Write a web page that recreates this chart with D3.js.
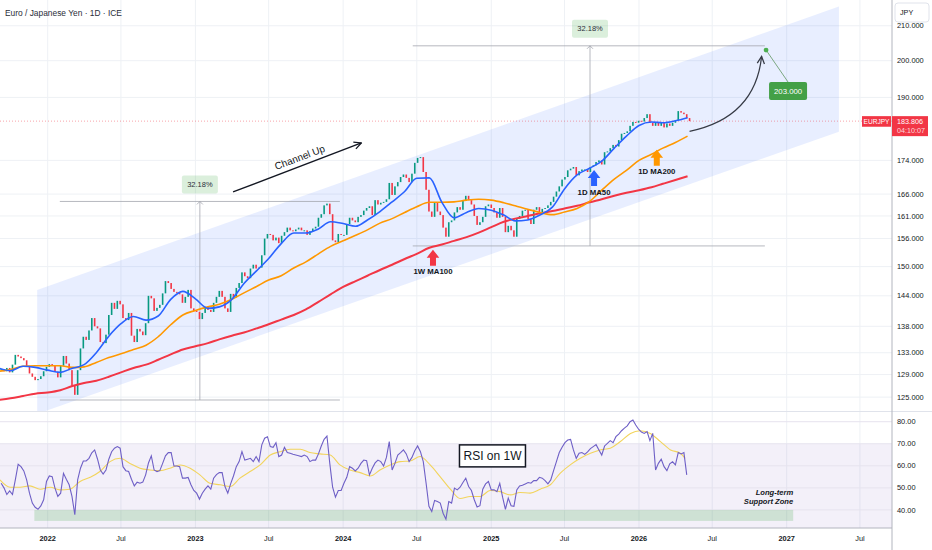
<!DOCTYPE html>
<html>
<head>
<meta charset="utf-8">
<script src="https://cdn.jsdelivr.net/npm/d3@7"></script>
<style>
  body { margin: 0; background: #fff; }
  svg { display: block; font-family: "Liberation Sans", Arial, sans-serif; }
</style>
</head>
<body>
<div id="chart"></div>
<script>
// ---- data ----
const title = 'Euro / Japanese Yen · 1D · ICE'
const firstWeek = '2021-09-06'

// weekly closes, one per week from firstWeek
const closes = [
  // 2021
  130.0, 129.6, 130.2, 129.4, 130.8, 132.6, 132.3, 132.0, 131.6, 130.5, 129.2, 128.6, 128.0, 128.2, 128.7, 129.6, 130.4,
  // 2022
  130.9, 130.6, 129.5, 128.5, 130.6, 132.4, 131.0, 129.8, 127.0, 125.4,
  129.8, 133.8, 136.0, 135.4, 137.2, 139.6, 138.0, 137.6, 135.0, 134.8,
  136.4, 140.2, 142.6, 141.4, 143.0, 142.3, 139.6, 139.2, 140.6, 136.2,
  135.0, 137.5, 137.0, 136.3, 138.6, 144.0, 143.5, 141.0, 141.6, 142.2,
  144.5, 147.0, 146.6, 145.4, 144.8, 144.6, 144.3, 142.6, 143.8, 145.2,
  141.5, 141.0,
  // 2023
  140.8, 139.4, 140.6, 141.8, 141.2, 140.8, 142.6, 143.8, 145.0, 143.8,
  141.5, 140.8, 144.4, 143.7, 145.6, 146.6, 148.8, 148.0, 147.6, 149.6,
  150.4, 149.6, 149.8, 152.4, 156.0, 157.0, 156.8, 155.6, 156.2, 155.0,
  156.6, 157.4, 158.4, 157.8, 157.6, 158.0, 158.4, 157.8, 157.8, 156.8,
  157.6, 158.2, 158.6, 160.6, 161.4, 163.4, 163.8, 161.4, 155.6, 155.2,
  157.0, 156.8,
  // 2024
  156.8, 159.2, 160.6, 160.0, 159.6, 160.8, 161.2, 162.2, 162.8, 163.2,
  161.2, 164.6, 163.6, 164.0, 164.2, 164.8, 168.6, 165.8, 167.8, 168.8,
  170.0, 170.6, 169.8, 168.8, 170.8, 173.4, 174.6, 174.8, 171.2, 167.0,
  162.0, 160.8, 164.0, 162.0, 161.2, 158.4, 156.4, 159.6, 160.0, 161.8,
  163.0, 162.4, 164.4, 165.6, 164.6, 163.6, 161.0, 159.0, 159.6, 160.8,
  163.2, 163.6, 162.8,
  // 2025
  161.8, 160.6, 162.8, 160.8, 157.4, 158.8, 157.8, 156.4, 160.4, 161.0,
  162.2, 162.4, 160.2, 159.2, 162.4, 163.0, 161.6, 162.6, 162.8, 163.4,
  164.2, 165.4, 166.6, 167.8, 169.4, 170.0, 171.6, 172.0, 172.4, 170.4,
  171.4, 171.8, 171.8, 171.2, 172.4, 172.8, 173.6, 174.0, 173.0, 176.0,
  176.2, 177.0, 177.8, 177.4, 179.0, 180.6, 180.8, 181.2, 182.6, 183.6,
  183.4, 183.9,
  // 2026
  183.7, 184.6, 185.6, 183.4, 182.6, 183.4, 182.6, 183.4, 182.2, 183.2,
  182.6, 183.4, 184.0, 186.4, 186.0, 185.6, 184.6, 183.806
]

// RSI on 1W, one per week from firstWeek
const rsi = [
  52.1, 50.0, 47.0, 48.6, 47.0, 53.6, 60.7, 59.6, 57.7, 53.6, 47.6, 43.1, 41.2, 40.3, 41.8, 44.6, 52.9,
  55.4, 55.1, 49.9, 46.1, 47.6, 56.6, 53.9, 51.4, 46.1, 37.8, 53.6, 58.9, 62.2, 62.2, 63.4, 65.9,
  67.2, 63.1, 58.1, 56.3, 58.1, 63.0, 66.4, 68.0, 68.7, 68.0, 59.6, 57.8, 57.4, 53.9, 50.9, 52.6,
  52.1, 52.6, 55.9, 61.3, 64.5, 58.1, 57.4, 57.8, 61.1, 64.5, 66.0, 66.0, 59.9, 59.9, 59.6, 54.4,
  54.4, 54.7, 51.4, 48.8, 47.6, 44.9, 47.6, 49.4, 50.9, 49.4, 54.4, 56.0, 56.9, 56.9, 50.6, 47.6,
  51.8, 55.4, 59.6, 61.9, 66.4, 62.6, 63.0, 63.4, 61.9, 64.2, 61.9, 69.5, 72.5, 73.2, 68.7, 68.4,
  70.5, 64.2, 64.9, 68.4, 66.0, 65.7, 65.2, 64.9, 64.6, 64.2, 64.9, 64.2, 61.9, 62.6, 62.6, 65.4,
  69.0, 72.0, 73.5, 61.1, 50.3, 45.8, 48.8, 48.8, 52.1, 54.8, 59.6, 58.9, 57.7, 58.9, 61.1, 62.6,
  62.3, 55.9, 58.9, 61.3, 62.6, 61.9, 59.9, 63.8, 71.0, 58.1, 61.1, 64.9, 66.0, 67.2, 65.4, 61.9,
  63.8, 66.8, 69.0, 66.4, 61.9, 52.1, 41.6, 39.3, 44.3, 43.8, 43.1, 38.5, 35.8, 43.8, 43.1, 49.9,
  49.1, 50.3, 52.4, 54.4, 50.6, 48.8, 44.6, 41.3, 41.9, 49.4, 51.8, 52.9, 49.1, 49.1, 48.3, 52.1,
  45.8, 40.3, 45.4, 41.9, 41.6, 49.1, 50.9, 51.2, 51.8, 52.4, 52.1, 53.3, 53.3, 54.8, 54.4, 53.3,
  51.8, 53.6, 57.8, 61.9, 66.0, 68.4, 70.5, 71.7, 72.0, 67.2, 63.4, 65.7, 66.0, 65.2, 66.3, 67.8,
  68.7, 69.6, 67.2, 64.9, 69.0, 70.2, 71.4, 70.5, 73.2, 74.4, 75.9, 77.1, 78.1, 80.0, 80.8, 78.5,
  76.6, 75.3, 74.7, 75.5, 71.4, 74.7, 58.1, 61.1, 63.0, 59.6, 57.8, 60.9, 61.8, 60.4, 66.0, 65.4,
  66.0, 55.9
]

// moving averages, one value per month from maStart
const maStart = '2021-09-01'
const ma50 = [
  130.2, 129.7, 130.5, 130.3,
  129.8, 129.4, 130.1, 130.8, 133.0, 136.1, 138.5, 139.9, 139.2, 140.0, 143.3, 144.9,
  143.4, 141.5, 141.8, 143.3, 146.5, 149.1, 151.7, 154.9, 157.2, 157.2, 158.1, 159.7,
  159.3, 158.7, 160.1, 162.0, 164.2, 166.6, 169.7, 169.8, 164.1, 160.6, 161.8, 162.7,
  162.3, 161.2, 159.9, 160.1, 161.2, 163.0, 167.2, 170.5, 172.1, 173.8, 177.0, 180.0,
  182.7, 183.6, 183.4, 183.9, 184.7
]
const ma200 = [
  129.6, 129.9, 130.5, 130.6,
  130.6, 130.6, 130.3, 130.4, 131.2, 132.1, 132.8, 133.6, 134.4, 136.0, 138.3, 140.2,
  141.1, 141.8, 142.3, 143.3, 144.6, 145.9, 147.2, 148.1, 149.7, 151.0, 152.7, 154.3,
  155.5, 156.7, 157.9, 159.4, 160.4, 161.8, 163.1, 164.1, 164.1, 164.2, 164.6, 164.8,
  164.6, 164.0, 163.3, 162.5, 161.8, 161.3, 161.9, 162.7, 164.3, 166.9, 169.5, 171.6,
  174.0, 175.5, 177.0, 178.4, 180.0
]
const ma100w = [
  124.5, 124.8, 125.2, 125.6,
  125.8, 126.2, 126.9, 127.5, 127.9, 128.6, 129.4, 130.2, 130.8, 131.7, 132.7, 133.6,
  134.2, 134.8, 135.5, 136.2, 136.8, 137.6, 138.4, 139.3, 140.2, 141.3, 142.8, 144.3,
  145.8, 147.0, 148.1, 149.3, 150.4, 151.6, 152.7, 154.0, 154.7, 155.5, 156.3, 157.3,
  158.5, 159.7, 160.4, 161.0, 161.6, 162.1, 162.7, 163.3, 164.1, 164.8, 165.6, 166.3,
  166.9, 167.6, 168.4, 169.3, 170.2
]

// moving average of the RSI
const rsiMaDates = [
  '2021-09-05', '2021-09-30', '2021-10-25', '2021-11-18', '2021-12-13',
  '2022-01-07', '2022-01-31', '2022-02-25', '2022-03-22', '2022-04-16', '2022-05-10', '2022-06-04', '2022-06-29',
  '2022-07-23', '2022-08-17', '2022-09-11', '2022-10-06', '2022-10-30', '2022-11-24', '2022-12-19',
  '2023-01-12', '2023-02-06', '2023-03-03', '2023-03-28', '2023-04-21', '2023-05-16', '2023-06-10', '2023-07-05',
  '2023-07-29', '2023-08-23', '2023-09-17', '2023-10-11', '2023-11-05', '2023-11-30', '2023-12-24',
  '2024-01-18', '2024-02-12', '2024-03-08', '2024-04-01', '2024-04-26', '2024-05-21', '2024-06-15', '2024-07-09',
  '2024-08-03', '2024-08-28', '2024-09-22', '2024-10-16', '2024-11-10', '2024-12-05', '2024-12-29',
  '2025-01-23', '2025-02-17', '2025-03-13', '2025-04-07', '2025-05-02', '2025-05-27', '2025-06-20', '2025-07-15',
  '2025-08-09', '2025-09-03', '2025-09-27', '2025-10-22', '2025-11-16', '2025-12-11',
  '2026-01-04', '2026-01-29', '2026-02-23', '2026-03-20', '2026-04-13', '2026-04-25'
]
const rsiMa = [
  53.6, 50.3, 50.3, 50.9, 49.4,
  50.3, 49.1, 49.4, 52.9, 54.8, 57.4, 61.9, 63.4, 61.1, 58.9, 58.1, 57.8, 58.9, 60.4, 58.9,
  55.9, 52.1, 51.4, 50.6, 54.4, 57.4, 60.4, 64.9, 66.4, 67.5, 67.5, 66.0, 65.4, 64.9, 60.4,
  58.1, 56.9, 55.4, 58.1, 60.4, 61.9, 62.2, 64.2, 60.4, 55.0, 49.4, 45.2, 46.1, 46.1, 48.8,
  48.3, 46.8, 47.9, 47.6, 49.4, 51.4, 56.6, 60.4, 63.4, 65.7, 67.2, 68.0, 71.0, 74.7,
  75.9, 74.7, 71.0, 67.2, 65.7, 63.4
]

const priceTicks = [210, 200, 190, 174, 166, 161, 156, 150, 144, 138, 133, 129, 125]
const rsiTicks = [80, 70, 60, 50, 40]
const xTickDates = ['2022-01-01', '2022-07-01', '2023-01-01', '2023-07-01', '2024-01-01', '2024-07-01',
  '2025-01-01', '2025-07-01', '2026-01-01', '2026-07-01', '2027-01-01', '2027-07-01']

const lastPrice = 183.806
const countdown = '04:10:07'

// drawings
const channel = { from: '2021-12-06', to: '2027-05-10', fromHi: 145.2, fromLo: 122.1, toHi: 215.7, toLo: 181.1 }
const measures = [
  { from: '2022-01-31', to: '2023-12-24', at: '2023-01-12', lo: 124.5, hi: 164.3, label: '32.18%' },
  { from: '2024-06-21', to: '2026-11-08', at: '2025-09-02', lo: 154.4, hi: 204.2, label: '32.18%' }
]
const target = { date: '2026-11-11', price: 203.0, label: '203.000' }
const projection = { from: ['2026-05-06', 181.2], ctrl: ['2026-10-15', 184.7], to: ['2026-10-31', 201.2] }
const channelArrow = { from: ['2023-04-04', 166.5], to: ['2024-02-15', 178.3], label: 'Channel Up' }
const maNotes = [
  { date: '2024-08-10', price: 153.6, text: '1W MA100', color: '#f23645' },
  { date: '2025-09-12', price: 171.7, text: '1D MA50', color: '#2962ff' },
  { date: '2026-02-14', price: 176.6, text: '1D MA200', color: '#ff9800' }
]
const rsiNote = { date: '2025-01-04', value: 64.5, text: 'RSI on 1W' }
const supportZone = { from: '2021-11-29', to: '2027-01-17', lo: 35, hi: 40, text: ['Long-term', 'Support Zone'] }

// ---- layout ----
const width = 932
const height = 550
const plotRight = 892
const mainBottom = 411
const rsiTop = 412
const rsiBottom = 528

const parse = d3.utcParse('%Y-%m-%d')

const x = d3.scaleUtc()
  .domain([parse('2022-01-01'), parse('2027-01-01')])
  .range([47.7, 786.7])

const y = d3.scaleLog().domain([122.6, 217.7]).range([mainBottom, 0])

const yr = d3.scaleLinear().domain([31.8, 84.4]).range([rsiBottom, rsiTop])

const svg = d3.select('#chart')
  .append('svg')
  .attr('width', width)
  .attr('height', height)

const defs = svg.append('defs')
defs.append('clipPath').attr('id', 'clip-main')
  .append('rect').attr('x', 0).attr('y', 0).attr('width', plotRight).attr('height', mainBottom)
defs.append('clipPath').attr('id', 'clip-rsi')
  .append('rect').attr('x', 0).attr('y', rsiTop).attr('width', plotRight).attr('height', rsiBottom - rsiTop)

function marker(id, color) {
  defs.append('marker')
    .attr('id', id)
    .attr('viewBox', '0 0 10 10')
    .attr('refX', 9)
    .attr('refY', 5)
    .attr('markerUnits', 'userSpaceOnUse')
    .attr('markerWidth', 9)
    .attr('markerHeight', 9)
    .attr('orient', 'auto')
    .append('path')
    .attr('d', 'M1,1 L9,5 L1,9')
    .attr('fill', 'none')
    .attr('stroke', color)
    .attr('stroke-width', 1.4)
}
marker('arrow-dark', '#131722')
marker('arrow-grey', '#363a45')

const gridColor = '#eef1f5'

// grid
const xTicks = xTickDates.map(parse)
svg.append('g')
  .selectAll('line')
  .data(xTicks)
  .join('line')
  .attr('x1', d => x(d)).attr('x2', d => x(d))
  .attr('y1', 0).attr('y2', rsiBottom)
  .attr('stroke', gridColor)

svg.append('g')
  .selectAll('line')
  .data(priceTicks)
  .join('line')
  .attr('x1', 0).attr('x2', plotRight)
  .attr('y1', d => y(d)).attr('y2', d => y(d))
  .attr('stroke', gridColor)

// ---- main pane ----
const main = svg.append('g').attr('clip-path', 'url(#clip-main)')

const ch = [
  [channel.from, channel.fromHi], [channel.to, channel.toHi],
  [channel.to, channel.toLo], [channel.from, channel.fromLo]
]
main.append('path')
  .attr('d', 'M' + ch.map(([d, p]) => [x(parse(d)), y(p)].join(',')).join('L') + 'Z')
  .attr('fill', '#2962ff')
  .attr('fill-opacity', 0.11)

// price line
main.append('line')
  .attr('x1', 0).attr('x2', plotRight)
  .attr('y1', y(lastPrice)).attr('y2', y(lastPrice))
  .attr('stroke', '#f23645')
  .attr('stroke-opacity', 0.45)
  .attr('stroke-dasharray', '1,2')

// measure tools
measures.forEach(m => {
  let x0 = x(parse(m.from))
  let x1 = x(parse(m.to))
  let xm = x(parse(m.at))
  let yHi = y(m.hi)
  let yLo = y(m.lo)
  let g = main.append('g').attr('stroke', '#a3a6af').attr('stroke-width', 0.8).attr('fill', 'none')
  g.append('line').attr('x1', x0).attr('x2', x1).attr('y1', yHi).attr('y2', yHi)
  g.append('line').attr('x1', x0).attr('x2', x1).attr('y1', yLo).attr('y2', yLo)
  g.append('line').attr('x1', xm).attr('x2', xm).attr('y1', yLo).attr('y2', yHi)
  g.append('path').attr('d', `M${xm - 3},${yHi + 3}L${xm},${yHi}L${xm + 3},${yHi + 3}`)
})

// moving averages
const months = d3.utcMonth.range(parse(maStart), d3.utcMonth.offset(parse(maStart), ma50.length))
const maLine = d3.line()
  .x((d, i) => x(months[i]))
  .y(d => y(d))
  .curve(d3.curveMonotoneX)

// weekly candles
const start = parse(firstWeek)
const bars = closes.map((c, i) => ({
  date: d3.utcDay.offset(start, 7 * i + 2),
  open: i ? closes[i - 1] : c,
  close: c
}))

main.selectAll('.bar')
  .data(bars)
  .join('rect')
  .attr('class', 'bar')
  .attr('x', d => x(d.date) - 0.8)
  .attr('width', 1.6)
  .attr('y', d => y(Math.max(d.open, d.close)))
  .attr('height', d => Math.max(1, Math.abs(y(d.open) - y(d.close))))
  .attr('fill', d => (d.close >= d.open ? '#089981' : '#f23645'))

main.append('path').datum(ma100w).attr('d', maLine)
  .attr('fill', 'none').attr('stroke', '#f23645').attr('stroke-width', 2)
main.append('path').datum(ma200).attr('d', maLine)
  .attr('fill', 'none').attr('stroke', '#ff9800').attr('stroke-width', 1.6)
main.append('path').datum(ma50).attr('d', maLine)
  .attr('fill', 'none').attr('stroke', '#2962ff').attr('stroke-width', 1.6)

// labels of the measure tools
measures.forEach(m => {
  let g = svg.append('g').attr('transform', `translate(${x(parse(m.at))},${y(m.hi) - 17})`)
  g.append('rect')
    .attr('x', -18).attr('y', -9).attr('width', 36).attr('height', 18).attr('rx', 2)
    .attr('fill', '#4caf50').attr('fill-opacity', 0.2)
  g.append('text')
    .text(m.label)
    .attr('text-anchor', 'middle')
    .attr('dy', '0.35em')
    .attr('font-size', 7.5)
    .attr('fill', '#2a2e39')
})

// channel up arrow
let ca0 = [x(parse(channelArrow.from[0])), y(channelArrow.from[1])]
let ca1 = [x(parse(channelArrow.to[0])), y(channelArrow.to[1])]
svg.append('line')
  .attr('x1', ca0[0]).attr('y1', ca0[1]).attr('x2', ca1[0]).attr('y2', ca1[1])
  .attr('stroke', '#131722').attr('stroke-width', 1.4)
  .attr('marker-end', 'url(#arrow-dark)')
let angle = Math.atan2(ca1[1] - ca0[1], ca1[0] - ca0[0]) * 180 / Math.PI
svg.append('text')
  .text(channelArrow.label)
  .attr('transform', `translate(${(ca0[0] + ca1[0]) / 2},${(ca0[1] + ca1[1]) / 2}) rotate(${angle})`)
  .attr('x', 6).attr('y', -5)
  .attr('text-anchor', 'middle')
  .attr('font-size', 10)
  .attr('fill', '#131722')

// projection curve
let p0 = [x(parse(projection.from[0])), y(projection.from[1])]
let p1 = [x(parse(projection.ctrl[0])), y(projection.ctrl[1])]
let p2 = [x(parse(projection.to[0])), y(projection.to[1])]
svg.append('path')
  .attr('d', `M${p0}Q${p1} ${p2}`)
  .attr('fill', 'none')
  .attr('stroke', '#363a45')
  .attr('stroke-width', 1.2)
  .attr('marker-end', 'url(#arrow-grey)')

// target point
let tx = x(parse(target.date))
let ty = y(target.price)
svg.append('line')
  .attr('x1', tx).attr('y1', ty).attr('x2', tx + 22).attr('y2', ty + 32)
  .attr('stroke', '#6f9f73').attr('stroke-width', 0.9)
svg.append('circle').attr('cx', tx).attr('cy', ty).attr('r', 2.4).attr('fill', '#4caf50')
let tg = svg.append('g').attr('transform', `translate(${tx + 22},${ty + 41})`)
tg.append('rect')
  .attr('x', -19).attr('y', -9).attr('width', 38).attr('height', 18).attr('rx', 2)
  .attr('fill', '#43a047')
tg.append('text')
  .text(target.label)
  .attr('text-anchor', 'middle')
  .attr('dy', '0.35em')
  .attr('font-size', 7.8)
  .attr('fill', '#fff')

// block arrows under the moving averages
maNotes.forEach(n => {
  let cx = x(parse(n.date))
  let cy = y(n.price)
  svg.append('path')
    .attr('d', `M${cx},${cy}L${cx + 6.3},${cy + 8}L${cx + 3},${cy + 8}L${cx + 3},${cy + 16}` +
      `L${cx - 3},${cy + 16}L${cx - 3},${cy + 8}L${cx - 6.3},${cy + 8}Z`)
    .attr('fill', n.color)
  svg.append('text')
    .text(n.text)
    .attr('x', cx)
    .attr('y', cy + 22)
    .attr('dy', '0.35em')
    .attr('text-anchor', 'middle')
    .attr('font-size', 7.8)
    .attr('font-weight', 'bold')
    .attr('fill', '#131722')
})

// ---- RSI pane ----
const rsiG = svg.append('g').attr('clip-path', 'url(#clip-rsi)')

rsiG.append('rect')
  .attr('x', 0).attr('width', plotRight)
  .attr('y', yr(70)).attr('height', yr(30) - yr(70))
  .attr('fill', '#7e57c2').attr('fill-opacity', 0.09)

rsiG.selectAll('.rgrid')
  .data(rsiTicks)
  .join('line')
  .attr('class', 'rgrid')
  .attr('x1', 0).attr('x2', plotRight)
  .attr('y1', d => yr(d)).attr('y2', d => yr(d))
  .attr('stroke', '#e6e3ee')

rsiG.append('rect')
  .attr('x', x(parse(supportZone.from)))
  .attr('width', x(parse(supportZone.to)) - x(parse(supportZone.from)))
  .attr('y', yr(supportZone.hi))
  .attr('height', yr(supportZone.lo) - yr(supportZone.hi))
  .attr('fill', '#4caf50').attr('fill-opacity', 0.22)

rsiG.append('path')
  .datum(rsiMa)
  .attr('d', d3.line().x((d, i) => x(parse(rsiMaDates[i]))).y(d => yr(d)).curve(d3.curveMonotoneX))
  .attr('fill', 'none').attr('stroke', '#f2d45c').attr('stroke-width', 1.1)

rsiG.append('path')
  .datum(rsi)
  .attr('d', d3.line().x((d, i) => x(d3.utcDay.offset(start, 7 * i + 2))).y(d => yr(d)))
  .attr('fill', 'none').attr('stroke', '#6e5fc6').attr('stroke-width', 1.1)

let sx = x(parse(supportZone.to))
supportZone.text.forEach((t, i) => {
  svg.append('text')
    .text(t)
    .attr('x', sx)
    .attr('y', yr(supportZone.hi) - 15 + i * 9)
    .attr('text-anchor', 'end')
    .attr('font-size', 7.6)
    .attr('font-weight', 'bold')
    .attr('font-style', 'italic')
    .attr('fill', '#131722')
})

let rg = svg.append('g').attr('transform', `translate(${x(parse(rsiNote.date))},${yr(rsiNote.value)})`)
rg.append('rect')
  .attr('x', -33).attr('y', -11).attr('width', 66).attr('height', 22)
  .attr('fill', '#fff').attr('stroke', '#131722').attr('stroke-width', 1.5)
rg.append('text')
  .text(rsiNote.text)
  .attr('text-anchor', 'middle')
  .attr('dy', '0.36em')
  .attr('font-size', 12)
  .attr('fill', '#131722')

// ---- frame and axes ----
svg.append('line')
  .attr('x1', 0).attr('x2', width).attr('y1', mainBottom + 0.5).attr('y2', mainBottom + 0.5)
  .attr('stroke', '#e0e3eb')
svg.append('line')
  .attr('x1', 0).attr('x2', plotRight).attr('y1', rsiBottom).attr('y2', rsiBottom)
  .attr('stroke', '#b2b5be')
svg.append('line')
  .attr('x1', plotRight).attr('x2', plotRight).attr('y1', 0).attr('y2', height)
  .attr('stroke', '#b2b5be')

svg.append('g')
  .selectAll('text')
  .data(priceTicks)
  .join('text')
  .text(d => d3.format('.3f')(d))
  .attr('x', 897)
  .attr('y', d => y(d))
  .attr('dy', '0.35em')
  .attr('font-size', 7.4)
  .attr('fill', '#131722')

svg.append('g')
  .selectAll('text')
  .data(rsiTicks)
  .join('text')
  .text(d => d3.format('.2f')(d))
  .attr('x', 897)
  .attr('y', d => yr(d))
  .attr('dy', '0.35em')
  .attr('font-size', 7.4)
  .attr('fill', '#131722')

svg.append('g')
  .selectAll('text')
  .data(xTicks)
  .join('text')
  .text(d => (d.getUTCMonth() === 0 ? d3.utcFormat('%Y')(d) : d3.utcFormat('%b')(d)))
  .attr('x', d => x(d))
  .attr('y', 538)
  .attr('dy', '0.35em')
  .attr('text-anchor', 'middle')
  .attr('font-size', 7.4)
  .attr('font-weight', d => (d.getUTCMonth() === 0 ? 'bold' : 'normal'))
  .attr('fill', '#131722')

// current price labels
let py = y(lastPrice)
svg.append('rect').attr('x', 862).attr('y', py - 5).attr('width', 29).attr('height', 10.6).attr('fill', '#f23645')
svg.append('text').text('EURJPY')
  .attr('x', 876.5).attr('y', py + 0.3).attr('dy', '0.35em').attr('text-anchor', 'middle')
  .attr('font-size', 6.6).attr('fill', '#fff')
svg.append('rect').attr('x', plotRight).attr('y', py - 5).attr('width', 36).attr('height', 20).attr('fill', '#f23645')
svg.append('text').text(d3.format('.3f')(lastPrice))
  .attr('x', 897).attr('y', py + 0.2).attr('dy', '0.35em')
  .attr('font-size', 7.2).attr('fill', '#fff')
svg.append('text').text(countdown)
  .attr('x', 897).attr('y', py + 9.8).attr('dy', '0.35em')
  .attr('font-size', 7.2).attr('fill', '#fff').attr('fill-opacity', 0.8)

// currency box
svg.append('rect')
  .attr('x', 895).attr('y', 3).attr('width', 34).attr('height', 19).attr('rx', 3)
  .attr('fill', '#fff').attr('stroke', '#e0e3eb')
svg.append('text').text('JPY')
  .attr('x', 900).attr('y', 12.5).attr('dy', '0.35em')
  .attr('font-size', 7.2).attr('fill', '#131722')

// title
svg.append('text')
  .text(title)
  .attr('x', 5)
  .attr('y', 13)
  .attr('dy', '0.35em')
  .attr('font-size', 8.4)
  .attr('fill', '#2a2e39')
</script>
</body>
</html>
